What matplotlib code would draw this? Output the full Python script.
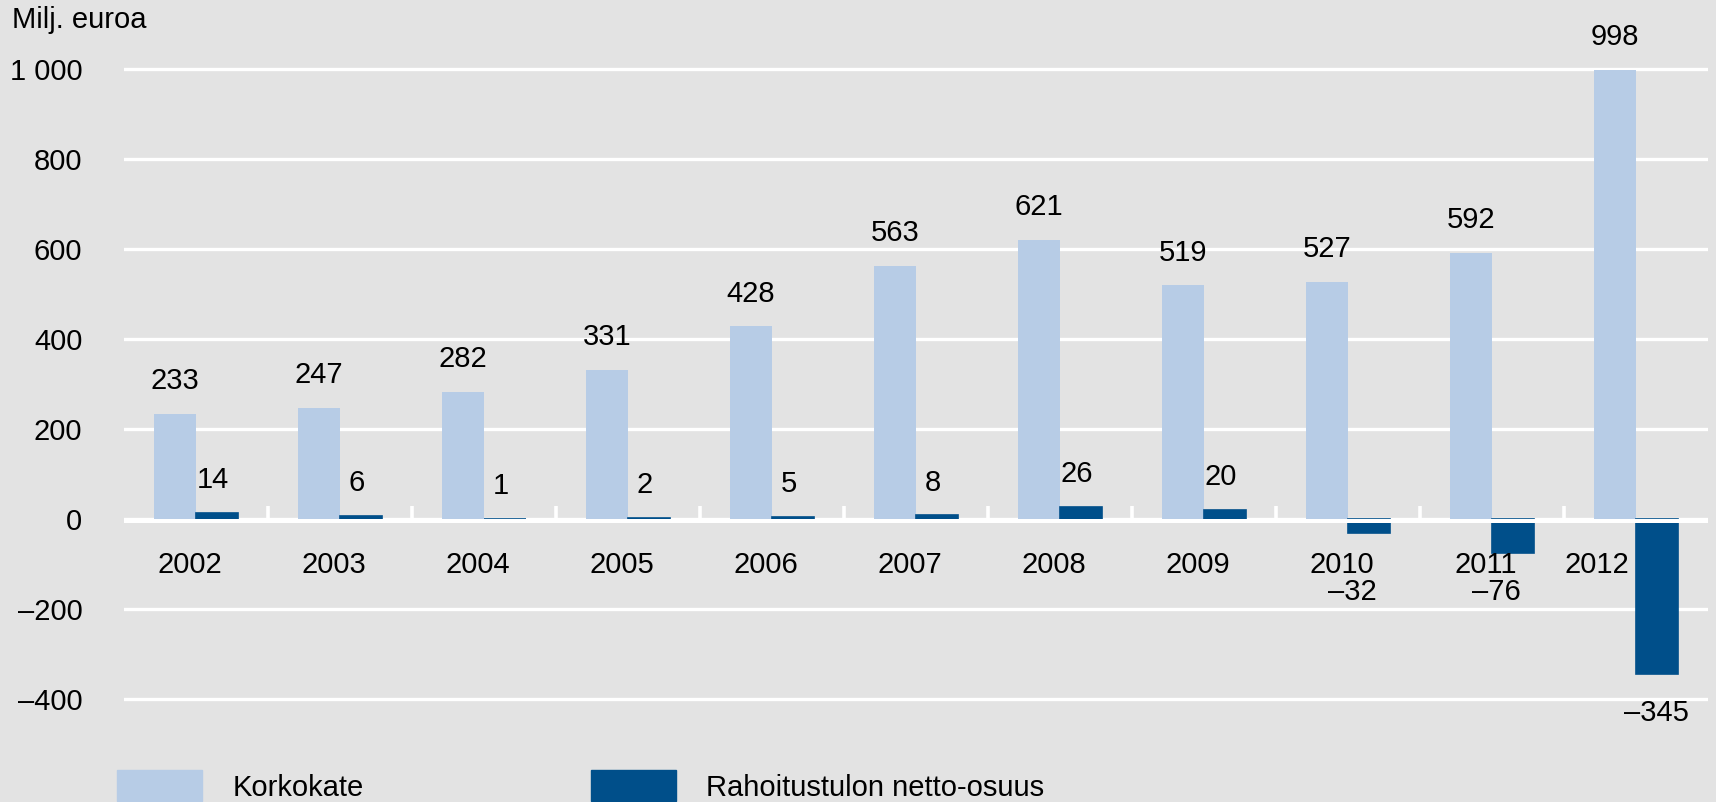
import matplotlib.pyplot as plt
import matplotlib.patches as mpatches
import numpy as np

years = ["2002", "2003", "2004", "2005", "2006", "2007", "2008", "2009", "2010", "2011", "2012"]
korkokate = [233, 247, 282, 331, 428, 563, 621, 519, 527, 592, 998]
rahoitus = [14, 6, 1, 2, 5, 8, 26, 20, -32, -76, -345]
yticks = [-400, -200, 0, 200, 400, 600, 800, 1000]
ytick_labels = ["\u2013400", "\u2013200", "0", "200", "400", "600", "800", "1 000"]

light = "#b7cce6"
dark = "#004f8a"
bg = "#e3e3e3"

plt.rcParams['font.family'] = ['Liberation Sans', 'DejaVu Sans']
fs = 21

fig = plt.figure(figsize=(17.16, 8.02), dpi=100, facecolor=bg)
ax = fig.add_axes([124 / 1716, 0.1172, (1708 - 124) / 1716, 0.8192])
ax.set_facecolor(bg)

x = np.arange(len(years))
w = 0.29
ax.bar(x - w / 2, korkokate, w, color=light, zorder=2)
ax.bar(x + w / 2, rahoitus, w, color=dark, edgecolor=dark, lw=1.2, zorder=2)

# white zero band just under the baseline, plus small ticks between years
ax.axhspan(-8, 0, color="white", lw=0, zorder=3)
ax.vlines(x[:-1] + 0.5, 0, 29, color="white", lw=2.6, zorder=3)

ax.set_xlim(-0.5, 10.5)
ax.set_ylim(-420, 1040)
ax.set_yticks(yticks)
ax.set_yticklabels(ytick_labels, fontsize=fs)
ax.tick_params(axis="y", length=0, pad=30)
ax.set_xticks([])
ax.grid(axis="y", color="white", lw=2.4, zorder=0)
ax.set_axisbelow(True)
for s in ax.spines.values():
    s.set_visible(False)

# year labels under the zero line
for i, yr in enumerate(years):
    dx = -0.27 if yr == "2012" else -0.04
    ax.text(i + dx, -102, yr, ha="center", va="center", fontsize=fs, zorder=4)

# value labels
for i, v in enumerate(korkokate):
    ax.text(i - w / 2, v + 73, str(v), ha="center", va="center", fontsize=fs)
for i, v in enumerate(rahoitus):
    if v >= 0:
        ax.text(i + w / 2 - 0.03, v + 73, str(v), ha="center", va="center", fontsize=fs)
    elif v > -200:
        ax.text(i + 0.03, -163, "\u2013" + str(-v), ha="center", va="center", fontsize=fs)
    else:
        ax.text(i + w / 2, v - 86, "\u2013" + str(-v), ha="center", va="center",
                fontsize=fs, clip_on=False)

fig.text(12 / 1716, 1 - 20 / 802, "Milj. euroa", ha="left", va="center", fontsize=fs)

handles = [mpatches.Patch(color=light, label="Korkokate"),
           mpatches.Patch(color=dark, label="Rahoitustulon netto-osuus")]
fig.legend(handles=handles, loc="center left", bbox_to_anchor=(117 / 1716, 0.02),
           ncol=2, frameon=False, fontsize=fs, handlelength=2.93, handleheight=1.24,
           handletextpad=1.02, columnspacing=7.8, borderpad=0, borderaxespad=0)

fig.savefig("out.png", dpi=100, facecolor=bg)
